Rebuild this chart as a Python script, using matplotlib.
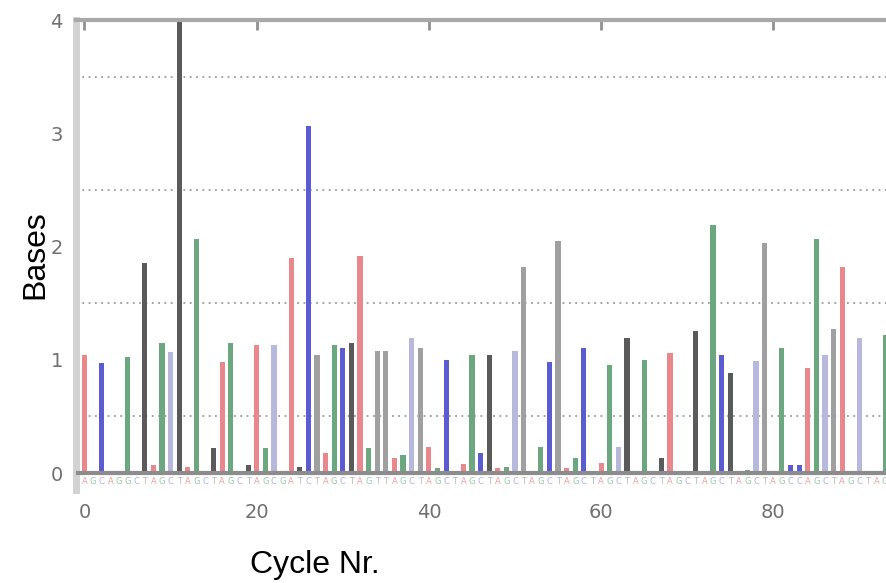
import matplotlib
matplotlib.use("Agg")
import matplotlib.pyplot as plt

# ---- data ----
cycles = [0, 2, 5, 7, 8, 9, 10, 11, 12, 13, 15, 16, 17, 19, 20, 21, 22, 24, 25, 26,
          27, 28, 29, 30, 31, 32, 33, 34, 35, 36, 37, 38, 39, 40, 41, 42, 44, 45, 46, 47,
          48, 49, 50, 51, 53, 54, 55, 56, 57, 58, 60, 61, 62, 63, 65, 67, 68, 71, 73, 74,
          75, 77, 78, 79, 81, 82, 83, 84, 85, 86, 87, 88, 90, 93]
heights = [1.04, 0.97, 1.02, 1.85, 0.07, 1.15, 1.07, 4.5, 0.05, 2.07, 0.22, 0.98, 1.15, 0.07, 1.13, 0.22, 1.13, 1.90, 0.05, 3.06,
           1.04, 0.18, 1.13, 1.10, 1.15, 1.92, 0.22, 1.08, 1.08, 0.13, 0.16, 1.19, 1.10, 0.23, 0.04, 1.00, 0.08, 1.04, 0.18, 1.04,
           0.04, 0.05, 1.08, 1.82, 0.23, 0.98, 2.05, 0.04, 0.13, 1.10, 0.09, 0.95, 0.23, 1.19, 1.00, 0.13, 1.06, 1.25, 2.19, 1.04,
           0.88, 0.03, 0.99, 2.03, 1.10, 0.07, 0.07, 0.93, 2.07, 1.04, 1.27, 1.82, 1.19, 1.22]
kinds = ["A", "C", "G", "T", "A", "G", "c", "T", "A", "G", "T", "A", "G", "T", "A", "G", "c", "A", "T", "C",
         "t", "A", "G", "C", "T", "A", "G", "t", "t", "A", "G", "c", "t", "A", "G", "C", "A", "G", "C", "T",
         "A", "G", "c", "t", "G", "C", "t", "A", "G", "C", "A", "G", "c", "T", "G", "T", "A", "T", "G", "C",
         "T", "G", "c", "t", "G", "C", "C", "A", "G", "c", "t", "A", "c", "G"]
sequence = "AGCAGGCTAGCTAGCTAGCTAGCGATCTAGCTAGTTAGCTAGCTAGCTAGCTAGCTAGCTAGCTAGCTAGCTAGCTAGCTAGCCAGCTAGCTAG"
x_ticks = [0, 20, 40, 60, 80]
y_ticks = [0, 1, 2, 3, 4]
grid_levels = [0.5, 1.5, 2.5, 3.5]

palette = {"A": "#e9878c", "C": "#5b5bd2", "G": "#6ba880", "T": "#5a5a5a",
           "c": "#b8b8dc", "t": "#a0a0a0"}
letter_colors = {"A": "#e9878c", "C": "#9a9ae0", "G": "#7fb892", "T": "#a8a8a8"}

fig = plt.figure(figsize=(8.87, 5.83), dpi=100)
ax = fig.add_axes([76 / 887, 1 - 490 / 583, 1 - 76 / 887, (490 - 20) / 583])

ax.set_xlim((76 - 84.5) / 8.61, (887 - 84.5) / 8.61)
ax.set_ylim(-0.15, 4.0)

for lvl in grid_levels:
    ax.axhline(lvl, color="#9a9a9a", lw=1.3, ls=(0, (1, 2.5)), zorder=0)

ax.bar(cycles, heights, width=0.6, color=[palette[k] for k in kinds], zorder=2)
ax.axhline(0, color="#8c8c8c", lw=3, zorder=3)

for i, ch in enumerate(sequence):
    ax.text(i, -0.075, ch, fontsize=6, color=letter_colors[ch], alpha=0.8,
            ha="center", va="center", zorder=1)

for side in ["right", "bottom"]:
    ax.spines[side].set_visible(False)
ax.spines["left"].set_color("#d2d2d2")
ax.spines["left"].set_linewidth(5)
ax.spines["top"].set_color("#a8a8a8")
ax.spines["top"].set_linewidth(3)

ax.set_xticks(x_ticks)
ax.set_yticks(y_ticks)
ax.tick_params(axis="x", bottom=False, top=True, direction="in", length=7, width=2,
               color="#909090", labelsize=14, labelcolor="#707070", pad=9)
ax.tick_params(axis="y", left=False, labelsize=14, labelcolor="#707070", pad=6)

fig.text(35 / 887, 1 - 255 / 583, "Bases", rotation=90, fontsize=23,
         family="Liberation Sans", ha="center", va="center")
fig.text(315 / 887, 1 - 565 / 583, "Cycle Nr.", fontsize=23,
         family="Liberation Sans", ha="center", va="center")

fig.savefig("out.png", dpi=100)
